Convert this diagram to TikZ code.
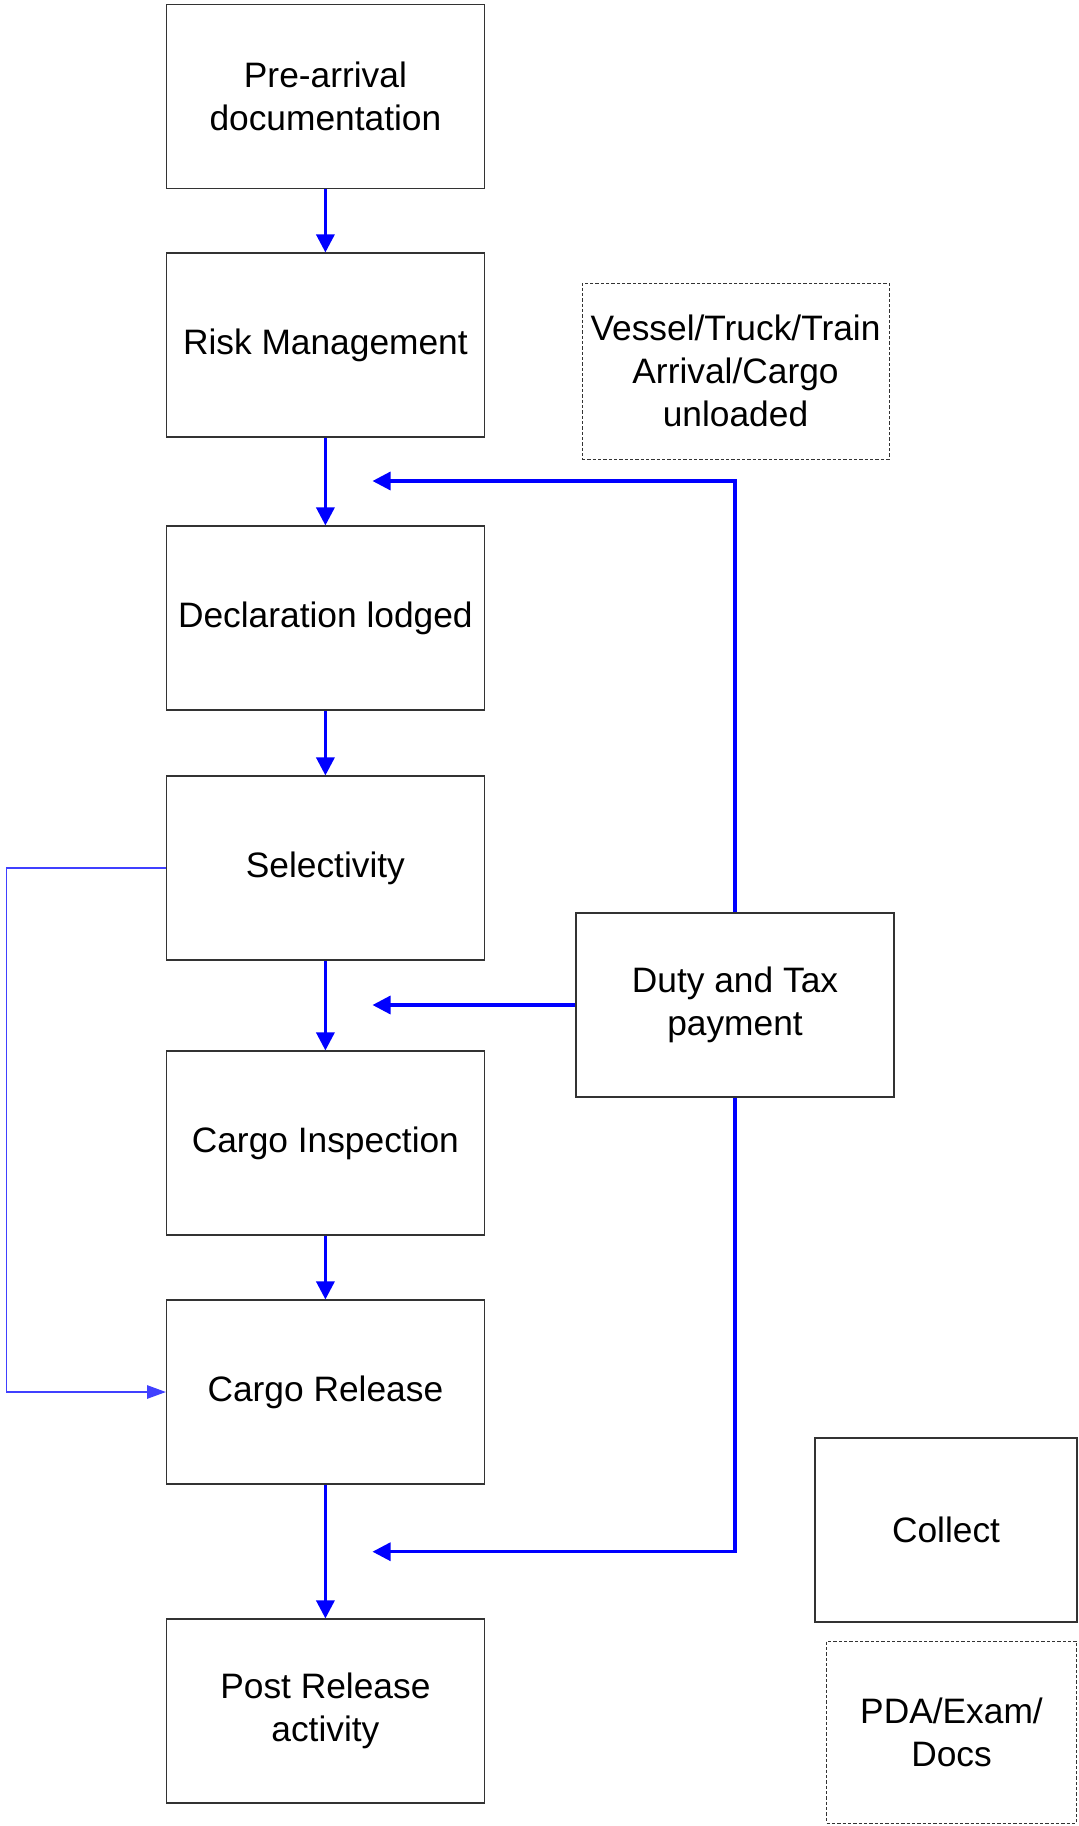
\documentclass[tikz,border=0pt]{standalone}
\usepackage{fontspec}
\setmainfont{Liberation Sans}
\usetikzlibrary{arrows.meta}

\begin{document}
\begin{tikzpicture}[x=0.75pt,y=-0.75pt,
  every node/.style={font=\fontsize{26.5}{32.3}\selectfont, align=center},
  box/.style={draw=black!80, line width=0.8pt, minimum width=238.5pt, minimum height=138pt, inner sep=0pt},
  dbox/.style={draw=black!80, line width=0.7pt, dash pattern=on 2.5pt off 1.5pt, inner sep=0pt},
  sbox/.style={draw=black!80, line width=0.8pt, inner sep=0pt},
  flow/.style={draw=blue, line width=2.4pt, -{Triangle[length=13.5pt,width=13.5pt]}},
  thinflow/.style={draw=blue!75, line width=1pt, -{Triangle[length=14pt,width=10pt]}}]

\useasboundingbox (0,0) rectangle (1078,1826);

% main process column
\node[box] (pre)  at (325.4,96.5)  {Pre-arrival\\documentation};
\node[box] (risk) at (325.4,345)   {Risk Management};
\node[box] (decl) at (325.4,618)   {Declaration lodged};
\node[box] (sel)  at (325.4,868)   {Selectivity};
\node[box] (insp) at (325.4,1143)  {Cargo Inspection};
\node[box] (rel)  at (325.4,1392)  {Cargo Release};
\node[box] (post) at (325.4,1711)  {Post Release\\activity};

% side boxes
\node[dbox, minimum width=230.25pt, minimum height=132pt] (arr) at (735.5,371) {Vessel/Truck/Train\\Arrival/Cargo\\unloaded};
\node[box] (duty) at (735,1005) {Duty and Tax\\payment};
\node[sbox, minimum width=196.5pt, minimum height=138pt] (coll) at (946,1530) {Collect};
\node[dbox, minimum width=187.5pt, minimum height=136.5pt] (pda) at (951.5,1732) {PDA/Exam/\\Docs};

% arrow ends between the steps
\coordinate (j1) at (372.5,481);
\coordinate (j2) at (372.5,1005);
\coordinate (j3) at (372.5,1551.7);
\coordinate (lx) at (6.7,868);

% main flow
\draw[flow] (pre)  -- (risk);
\draw[flow] (risk) -- (decl);
\draw[flow] (decl) -- (sel);
\draw[flow] (sel)  -- (insp);
\draw[flow] (insp) -- (rel);
\draw[flow] (rel)  -- (post);

% duty and tax links
\draw[flow] (duty.north) |- (j1);
\draw[flow] (duty.west) -- (j2);
\draw[flow] (duty.south) |- (j3);

% selectivity bypass to release
\draw[thinflow] (sel.west) -- (lx) |- (rel.west);

\end{tikzpicture}
\end{document}
